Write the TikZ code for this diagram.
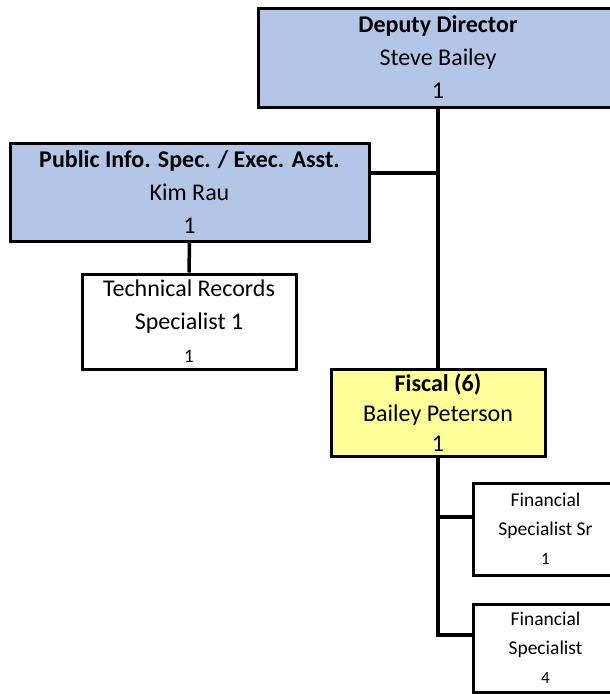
\documentclass[tikz,border=0pt]{standalone}
\usepackage{fontspec}
\setmainfont{Carlito}
\definecolor{deskblue}{HTML}{B4C6E7}
\definecolor{fiscyellow}{HTML}{FFFF99}
\begin{document}
\begin{tikzpicture}[x=1pt,y=-1pt,
        post/.style={draw=black,line width=3pt,rectangle,inner sep=0pt,align=center,font=\fontsize{24}{33}\selectfont},
        smallpost/.style={post,font=\fontsize{19.5}{29}\selectfont,minimum width=145pt},
        wire/.style={line width=3.5pt}]
            \clip (0,0) rectangle (610,694);
            \fill[white] (0,0) rectangle (610,694);
            \node[post,fill=deskblue,minimum width=359pt,minimum height=99pt] (dep) at (438,57.5) {\textbf{Deputy Director}\\Steve Bailey\\1};
            \node[post,fill=deskblue,minimum width=359pt,minimum height=98pt] (pub) at (189.5,192) {\textbf{Public Info. Spec. / Exec. Asst.}\\Kim Rau\\1};
            \node[post,fill=white,minimum width=214pt,minimum height=95pt] (tech) at (189,321.5) {Technical Records\\Specialist 1\\{\fontsize{19}{29}\selectfont 1}};
            \node[post,fill=fiscyellow,minimum width=214pt,minimum height=87pt,font=\fontsize{24}{30}\selectfont] (fisc) at (438,412.5) {\textbf{Fiscal (6)}\\Bailey Peterson\\1};
            \node[smallpost,fill=white,minimum height=92pt] (fsr) at (545.5,529) {Financial\\Specialist Sr\\{\fontsize{17}{29}\selectfont 1}};
            \node[smallpost,fill=white,minimum height=88pt] (fsp) at (545.5,648) {Financial\\Specialist\\{\fontsize{17}{29}\selectfont 4}};
            \coordinate (pubjoin) at (438,173);
            \coordinate (srjoin) at ([yshift=12pt]fsr.west);
            \coordinate (spjoin) at ([yshift=13pt]fsp.west);
            \draw[wire] (dep.south) -- (fisc.north);
            \draw[wire] (pub.east |- pubjoin) -- (pubjoin);
            \draw[wire] (pub.south) -- (tech.north);
            \draw[wire] (fisc.south) |- (spjoin);
            \draw[wire] (fisc.south |- srjoin) -- (srjoin);
        \end{tikzpicture}
\end{document}
